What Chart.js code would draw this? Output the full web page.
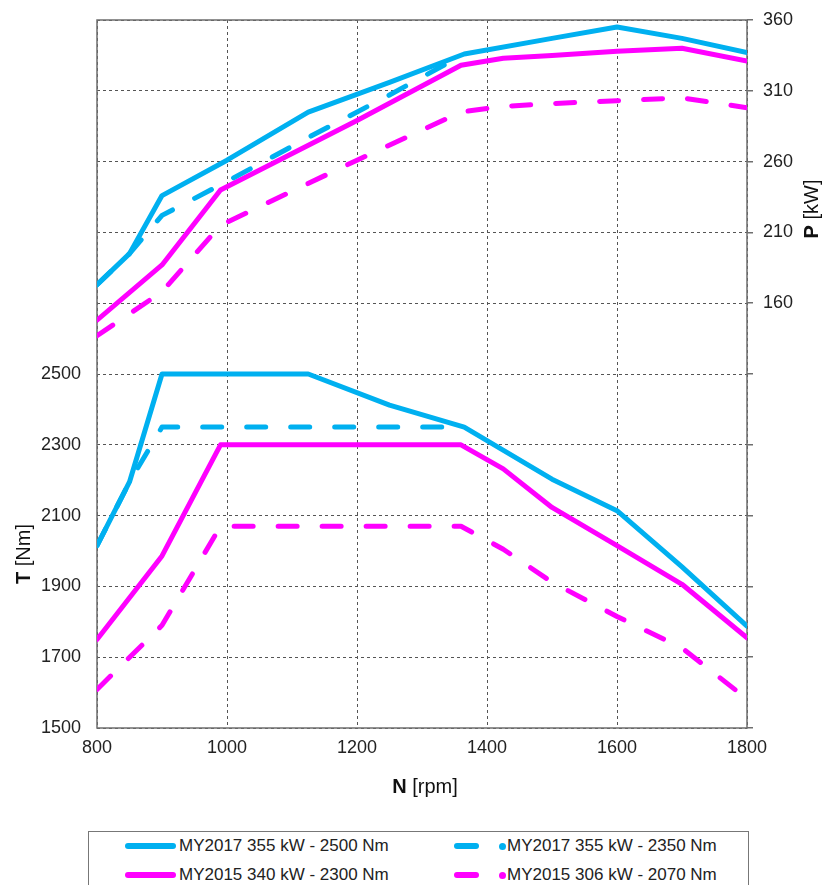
<!DOCTYPE html>
<html lang="en">
<head>
    <meta charset="UTF-8">
    <title>Torque and power curves</title>
    <style>
        * { margin: 0; padding: 0; box-sizing: border-box; }
        body { background: #fff; width: 824px; height: 885px; overflow: hidden; font-family: 'Liberation Sans', Arial, sans-serif; }
        #wrap { position: relative; width: 824px; height: 885px; }
        #chartBox { position: absolute; left: 0; top: 0; width: 824px; height: 815px; }
        #legend { position: absolute; left: 88px; top: 831px; width: 661px; height: 80px; border: 1px solid #777; }
        .item { position: absolute; font-size: 17px; color: #222; line-height: 20px; white-space: nowrap; }
        .sw { position: absolute; height: 6px; border-radius: 3px; }
        .dot { position: absolute; width: 7px; height: 7px; border-radius: 50%; }
    </style>
</head>
<body>
<div id="wrap">
    <div id="chartBox"><canvas id="curves"></canvas></div>
    <div id="legend"></div>
</div>

<script src="https://cdn.jsdelivr.net/npm/chart.js"></script>
<script>
    // MY2017 355 kW - 2500 Nm
    const rpm2017a = [800, 850, 900, 1000, 1125, 1250, 1365, 1500, 1600, 1700, 1800];
    const torque2017a = [2015, 2195, 2500, 2500, 2500, 2412, 2350, 2203, 2114, 1955, 1788];
    const power2017a = [173, 195, 236, 261, 295, 316, 336, 347, 355, 347, 337];

    // MY2017 355 kW - 2350 Nm (joins the line above from 1365 rpm)
    const rpm2017b = [800, 850, 900, 1000, 1125, 1250, 1365];
    const torque2017b = [2015, 2195, 2350, 2350, 2350, 2350, 2350];
    const power2017b = [173, 195, 222, 246, 277, 307, 336];

    // MY2015 340 kW - 2300 Nm
    const rpm2015a = [800, 900, 990, 1200, 1360, 1425, 1500, 1600, 1700, 1800];
    const torque2015a = [1750, 1986, 2300, 2300, 2300, 2232, 2123, 2015, 1906, 1755];
    const power2015a = [148, 187, 240, 289, 328, 333, 335, 338, 340, 331];

    // MY2015 306 kW - 2070 Nm
    const rpm2015b = [800, 900, 990, 1200, 1360, 1425, 1500, 1600, 1700, 1800];
    const torque2015b = [1609, 1790, 2070, 2070, 2070, 2005, 1912, 1815, 1726, 1582];
    const power2015b = [137, 168, 215, 261, 295, 299, 301, 303, 305, 298];

    const seriesNames = ['MY2017 355 kW - 2500 Nm', 'MY2017 355 kW - 2350 Nm', 'MY2015 340 kW - 2300 Nm', 'MY2015 306 kW - 2070 Nm'];
    const rpmTicks = [800, 1000, 1200, 1400, 1600, 1800];
    const torqueTicks = [1500, 1700, 1900, 2100, 2300, 2500];
    const powerTicks = [160, 210, 260, 310, 360];

    const BLUE = '#00b0f0';
    const PINK = '#ff00ff';
    const DASH = [19, 25];
    const FONT = "'Liberation Sans', Arial, sans-serif";

    function pts(xs, ys) {
        return xs.map((x, i) => ({ x: x, y: ys[i] }));
    }

    function line(label, xs, ys, axis, color, dashed) {
        return {
            label: label,
            data: pts(xs, ys),
            yAxisID: axis,
            borderColor: color,
            backgroundColor: color,
            borderWidth: 5,
            borderDash: dashed ? DASH : [],
            borderCapStyle: 'round',
            borderJoinStyle: 'round',
            pointRadius: 0,
            tension: 0,
            fill: false
        };
    }

    // frame round the plot area
    const frame = {
        id: 'frame',
        beforeDatasetsDraw(chart) {
            const a = chart.chartArea, c = chart.ctx;
            c.save();
            c.strokeStyle = '#6e6e6e';
            c.lineWidth = 1.5;
            c.strokeRect(a.left, a.top, a.right - a.left, a.bottom - a.top);
            c.restore();
        }
    };

    function mixedTitle(c, bold, rest, x, y, rot) {
        c.save();
        c.translate(x, y);
        c.rotate(rot);
        c.textBaseline = 'middle';
        c.fillStyle = '#111';
        c.font = 'bold 20px ' + FONT;
        const w1 = c.measureText(bold).width;
        c.font = '20px ' + FONT;
        const w2 = c.measureText(rest).width;
        const x0 = -(w1 + w2) / 2;
        c.font = 'bold 20px ' + FONT;
        c.fillText(bold, x0, 0);
        c.font = '20px ' + FONT;
        c.fillText(rest, x0 + w1, 0);
        c.restore();
    }

    const axisTitles = {
        id: 'axisTitles',
        afterDraw(chart) {
            const c = chart.ctx, s = chart.scales;
            const tMid = (s.y.getPixelForValue(torqueTicks[0]) + s.y.getPixelForValue(torqueTicks[torqueTicks.length - 1])) / 2;
            mixedTitle(c, 'T', ' [Nm]', 24, tMid + 3, -Math.PI / 2);
            mixedTitle(c, 'P', ' [kW]', 812, 209, -Math.PI / 2);
            mixedTitle(c, 'N', ' [rpm]', (chart.chartArea.left + chart.chartArea.right) / 2 + 3, 787, 0);
        }
    };

    const tickFont = { family: FONT, size: 18 };

    // fixed axis widths; drop the extra label padding so the plot starts at the top padding
    function fixWidth(w) {
        return sc => {
            sc.width = w;
            sc.paddingTop = 0;
            sc.paddingBottom = 0;
        };
    }

    new Chart(document.getElementById('curves'), {
        type: 'line',
        data: {
            datasets: [
                line(seriesNames[0] + ' T', rpm2017a, torque2017a, 'y', BLUE, false),
                line(seriesNames[0] + ' P', rpm2017a, power2017a, 'y1', BLUE, false),
                line(seriesNames[1] + ' T', rpm2017b, torque2017b, 'y', BLUE, true),
                line(seriesNames[1] + ' P', rpm2017b, power2017b, 'y1', BLUE, true),
                line(seriesNames[2] + ' T', rpm2015a, torque2015a, 'y', PINK, false),
                line(seriesNames[2] + ' P', rpm2015a, power2015a, 'y1', PINK, false),
                line(seriesNames[3] + ' T', rpm2015b, torque2015b, 'y', PINK, true),
                line(seriesNames[3] + ' P', rpm2015b, power2015b, 'y1', PINK, true)
            ]
        },
        options: {
            responsive: true,
            maintainAspectRatio: false,
            animation: false,
            layout: { padding: { top: 20, left: 0, right: 0, bottom: 0 } },
            plugins: { legend: { display: false }, tooltip: { enabled: false } },
            scales: {
                x: {
                    type: 'linear',
                    min: rpmTicks[0],
                    max: rpmTicks[rpmTicks.length - 1],
                    afterBuildTicks: sc => { sc.ticks = rpmTicks.map(v => ({ value: v })); },
                    afterFit: sc => { sc.height = 87; },
                    ticks: { font: tickFont, color: '#222', padding: 9, maxRotation: 0, callback: v => String(v) },
                    grid: { color: '#555', lineWidth: 1, drawTicks: false },
                    border: { display: false, dash: [3, 3] }
                },
                y: {
                    position: 'left',
                    min: 1500,
                    max: 3500,
                    ticks: {
                        stepSize: 200,
                        font: tickFont,
                        color: '#222',
                        padding: 16,
                        callback: v => torqueTicks.includes(v) ? String(v) : ''
                    },
                    afterFit: fixWidth(97),
                    grid: { color: '#555', lineWidth: 1, drawTicks: false },
                    border: { display: false, dash: [3, 3] }
                },
                y1: {
                    position: 'right',
                    min: -140,
                    max: 360,
                    ticks: {
                        stepSize: 50,
                        font: tickFont,
                        color: '#222',
                        padding: 10,
                        callback: v => powerTicks.includes(v) ? String(v) : ''
                    },
                    afterFit: fixWidth(77),
                    grid: { drawOnChartArea: false, drawTicks: true, tickLength: 6, color: '#6e6e6e', lineWidth: 1.5 },
                    border: { display: false }
                }
            }
        },
        plugins: [frame, axisTitles]
    });

    // legend box below the chart
    const legendItems = [
        { name: seriesNames[0], color: BLUE, dashed: false, left: 36, top: 4 },
        { name: seriesNames[1], color: BLUE, dashed: true, left: 365, top: 4 },
        { name: seriesNames[2], color: PINK, dashed: false, left: 36, top: 33 },
        { name: seriesNames[3], color: PINK, dashed: true, left: 365, top: 33 }
    ];
    const legend = document.getElementById('legend');
    legendItems.forEach(it => {
        const row = document.createElement('div');
        row.className = 'item';
        row.style.left = it.left + 'px';
        row.style.top = it.top + 'px';
        row.style.height = '20px';
        const sw = document.createElement('div');
        sw.className = 'sw';
        sw.style.left = '0px';
        sw.style.top = '7px';
        sw.style.width = it.dashed ? '25px' : '51px';
        sw.style.background = it.color;
        row.appendChild(sw);
        if (it.dashed) {
            const d = document.createElement('div');
            d.className = 'dot';
            d.style.left = '45px';
            d.style.top = '6.5px';
            d.style.background = it.color;
            row.appendChild(d);
        }
        const t = document.createElement('span');
        t.textContent = it.name;
        t.style.position = 'absolute';
        t.style.left = it.dashed ? '53px' : '54px';
        row.appendChild(t);
        legend.appendChild(row);
    });
</script>
</body>
</html>
